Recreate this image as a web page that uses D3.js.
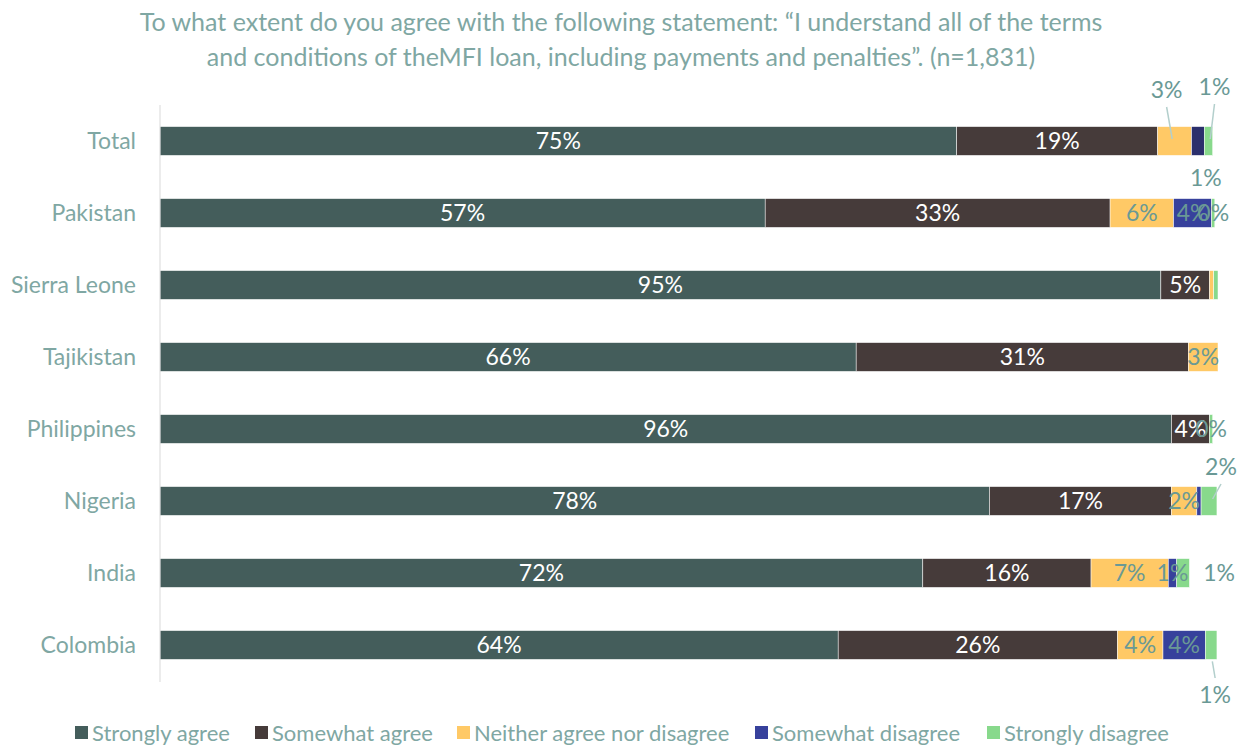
<!DOCTYPE html>
<html>
<head>
<meta charset="utf-8">
<script src="https://cdnjs.cloudflare.com/ajax/libs/d3/7.8.5/d3.min.js"></script>
<style>
  body { margin: 0; background: #fff; }
  text { font-family: Lato, "Open Sans", sans-serif; }
</style>
</head>
<body>
<div id="main-container"></div>
<script>
var width = 1250,
    height = 747

var categories = ["Total", "Pakistan", "Sierra Leone", "Tajikistan", "Philippines", "Nigeria", "India", "Colombia"]
var seriesNames = ["Strongly agree", "Somewhat agree", "Neither agree nor disagree", "Somewhat disagree", "Strongly disagree"]

var stronglyAgree    = [75.3, 57.2, 94.6, 65.8, 95.6, 78.4, 72.1, 64.1]
var somewhatAgree    = [19.0, 32.6, 4.6, 31.4, 3.6, 17.2, 15.9, 26.4]
var neitherAgree     = [3.2, 6.0, 0.4, 2.8, 0, 2.4, 7.3, 4.3]
var somewhatDisagree = [1.2, 3.6, 0, 0, 0, 0.4, 0.8, 4.0]
var stronglyDisagree = [0.8, 0.3, 0.4, 0, 0.3, 1.5, 1.2, 1.1]

var titleLines = [
  "To what extent do you agree with the following statement: \u201cI understand all of the terms",
  "and conditions of theMFI loan, including payments and penalties\u201d. (n=1,831)"
]

var colors = ["#445d5b", "#463b3a", "#ffc966", "#37419c", "#88d98c"]
var textCol = "#7fa7a3"
var labelCol = "#6a9995"

// labels that the original leaves out
var hidden = {"Sierra Leone-2": 1, "Sierra Leone-4": 1, "Nigeria-3": 1}
// labels moved out of the bar: [dx, dy, leader]
var moved = {
  "Total-2": [-8, -51, true],
  "Total-3": [8, 37, false],
  "Total-4": [6, -54, true],
  "Nigeria-4": [12, -34, true],
  "India-4": [36, 0, false],
  "Colombia-4": [4, 50, true]
}

var allSeries = [stronglyAgree, somewhatAgree, neitherAgree, somewhatDisagree, stronglyDisagree]

var svg = d3.select("#main-container").append("svg")
  .attr("width", width)
  .attr("height", height)

var x = d3.scaleLinear()
  .domain([0, 100])
  .range([160, 1218])

var y = d3.scaleBand()
  .domain(categories)
  .range([105, 681])
  .paddingInner(0.6)
  .paddingOuter(0.3)

svg.selectAll(".title")
  .data(titleLines)
  .enter().append("text")
  .attr("x", 621)
  .attr("y", function(d, i){ return 31 + i*35 })
  .attr("text-anchor", "middle")
  .attr("fill", textCol)
  .style("font-size", "25px")
  .text(function(d){ return d })

// build segments
var segs = []
categories.forEach(function(c, ci){
  var x0 = 0
  allSeries.forEach(function(s, si){
    segs.push({cat: c, si: si, v: s[ci], x0: x0, x1: x0 + s[ci]})
    x0 += s[ci]
  })
})

svg.append("g").selectAll("rect")
  .data(segs.filter(function(d){ return d.v > 0 }))
  .enter().append("rect")
  .attr("x", function(d){ return x(d.x0) })
  .attr("y", function(d){ return y(d.cat) })
  .attr("width", function(d){ return x(d.x1) - x(d.x0) })
  .attr("height", y.bandwidth())
  .attr("fill", function(d){
    if (d.cat == "Total" && d.si == 3) return "#2b2f6c"
    return colors[d.si]
  })
  .attr("stroke", "#fff")
  .attr("stroke-width", 0.5)

svg.append("line")
  .attr("x1", 160).attr("x2", 160)
  .attr("y1", 105).attr("y2", 682)
  .attr("stroke", "#d9d9d9")

svg.append("g").selectAll("text")
  .data(categories)
  .enter().append("text")
  .attr("x", 136)
  .attr("y", function(d){ return y(d) + y.bandwidth()/2 })
  .attr("dy", "0.35em")
  .attr("text-anchor", "end")
  .attr("fill", textCol)
  .style("font-size", "23px")
  .text(function(d){ return d })

var labels = segs.filter(function(d){
  return d.v > 0 && !hidden[d.cat + "-" + d.si]
})

var lg = svg.append("g")
labels.forEach(function(d){
  var key = d.cat + "-" + d.si
  var cx = x((d.x0 + d.x1)/2)
  var cy = y(d.cat) + y.bandwidth()/2
  var m = moved[key]
  var lx = cx, ly = cy
  if (m) {
    lx = cx + m[0]
    ly = cy + m[1]
    if (m[2]) {
      var up = m[1] < 0
      lg.append("line")
        .attr("x1", lx)
        .attr("y1", up ? ly + 17 : ly - 17)
        .attr("x2", cx + m[0]*0.3)
        .attr("y2", up ? cy - 2 : cy + y.bandwidth()/2 + 2)
        .attr("stroke", "#b3cfcc")
        .attr("stroke-width", 1.5)
    }
  }
  lg.append("text")
    .attr("x", lx)
    .attr("y", ly)
    .attr("dy", "0.35em")
    .attr("text-anchor", "middle")
    .attr("fill", (d.si < 2 && !m) ? "#fff" : labelCol)
    .style("font-size", "23px")
    .text(Math.round(d.v) + "%")
})

var legendX = [75, 255, 457, 755, 987]
var legend = svg.append("g").selectAll("g")
  .data(seriesNames)
  .enter().append("g")
  .attr("transform", function(d, i){ return "translate(" + legendX[i] + ",733)" })

legend.append("rect")
  .attr("x", 0).attr("y", -7)
  .attr("width", 13).attr("height", 13)
  .attr("fill", function(d, i){ return colors[i] })

legend.append("text")
  .attr("x", 17)
  .attr("dy", "0.35em")
  .attr("fill", textCol)
  .style("font-size", "22px")
  .text(function(d){ return d })
</script>
</body>
</html>
